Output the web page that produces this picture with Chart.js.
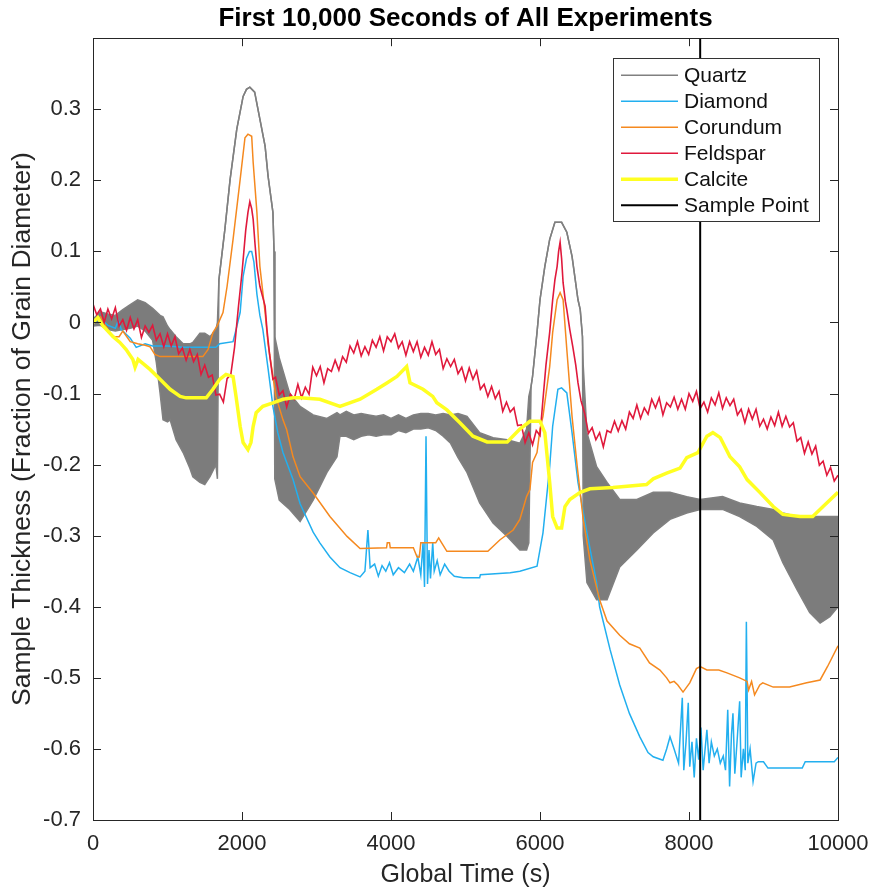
<!DOCTYPE html>
<html><head><meta charset="utf-8">
<script src="https://cdn.jsdelivr.net/npm/chart.js@4.4.1/dist/chart.umd.min.js"></script>
<style>html,body{margin:0;padding:0;background:#fff}canvas{display:block}</style>
</head><body>
<canvas id="c" width="873" height="890"></canvas>
<script>
// ---------------- DATA ----------------
const chartTitle = 'First 10,000 Seconds of All Experiments';
const xAxisLabel = 'Global Time (s)';
const yAxisLabel = 'Sample Thickness (Fraction of Grain Diameter)';
const seriesNames = ['Quartz', 'Diamond', 'Corundum', 'Feldspar', 'Calcite', 'Sample Point'];
const xTicks = [0, 2000, 4000, 6000, 8000, 10000];
const yTicks = [-0.7, -0.6, -0.5, -0.4, -0.3, -0.2, -0.1, 0, 0.1, 0.2, 0.3];

// Quartz oscillates rapidly: [time, upper envelope, lower envelope]
const quartz = [
  [0,0.005,-0.005],[100,0.015,-0.004],[200,0.012,-0.01],[300,0.01,-0.012],[400,0.018,-0.01],
  [500,0.025,-0.008],[600,0.032,-0.005],[700,0.028,-0.012],[800,0.02,-0.025],[850,0.015,-0.056],
  [900,0.01,-0.099],[940,0.008,-0.137],[1000,-0.005,-0.14],[1035,-0.01,-0.137],[1115,-0.02,-0.165],
  [1210,-0.03,-0.183],[1300,-0.03,-0.205],[1340,-0.028,-0.217],[1435,-0.015,-0.225],[1500,-0.015,-0.228],
  [1570,-0.02,-0.217],[1650,-0.01,-0.2],[1670,0.0,-0.22],[1690,0.06,0.06],[1770,0.131,0.131],
  [1840,0.201,0.201],[1930,0.272,0.272],[2015,0.318,0.318],[2060,0.328,0.328],[2105,0.331,0.331],
  [2170,0.324,0.324],[2240,0.286,0.286],[2310,0.248,0.248],[2350,0.206,0.206],[2415,0.155,0.155],
  [2430,0.10,0.10],[2440,-0.02,-0.22],[2500,-0.05,-0.25],[2640,-0.1,-0.263],[2780,-0.118,-0.28],
  [2955,-0.13,-0.25],[3140,-0.135,-0.211],[3275,-0.127,-0.189],[3315,-0.13,-0.16],[3400,-0.125,-0.16],
  [3500,-0.13,-0.165],[3600,-0.128,-0.16],[3700,-0.13,-0.158],[3800,-0.132,-0.16],[3900,-0.13,-0.158],
  [4000,-0.135,-0.158],[4100,-0.13,-0.152],[4200,-0.135,-0.155],[4300,-0.13,-0.15],[4400,-0.128,-0.15],
  [4500,-0.128,-0.148],[4600,-0.13,-0.152],[4700,-0.128,-0.16],[4800,-0.13,-0.17],[4900,-0.128,-0.19],
  [5020,-0.132,-0.211],[5190,-0.155,-0.254],[5370,-0.162,-0.282],[5560,-0.165,-0.301],[5730,-0.17,-0.32],
  [5820,-0.15,-0.32],[5850,-0.104,-0.31],[5880,-0.09,-0.09],[5900,-0.076,-0.076],[5960,-0.014,-0.014],
  [6000,0.032,0.032],[6065,0.079,0.079],[6130,0.117,0.117],[6200,0.141,0.141],[6290,0.141,0.141],
  [6360,0.127,0.127],[6430,0.093,0.093],[6510,0.032,0.032],[6540,0.018,0.018],[6570,-0.02,-0.02],
  [6580,-0.06,-0.3],[6630,-0.155,-0.366],[6760,-0.203,-0.39],[6900,-0.225,-0.39],[7070,-0.249,-0.344],
  [7300,-0.249,-0.32],[7520,-0.239,-0.296],[7745,-0.239,-0.277],[7970,-0.245,-0.268],[8150,-0.249,-0.263],
  [8450,-0.245,-0.263],[8680,-0.254,-0.273],[8910,-0.259,-0.287],[9130,-0.263,-0.306],[9260,-0.268,-0.338],
  [9450,-0.273,-0.376],[9620,-0.273,-0.408],[9760,-0.273,-0.423],[9890,-0.273,-0.414],[10000,-0.273,-0.4]
];

const diamond = [
  [0,0],[100,0.005],[200,-0.004],[300,-0.008],[340,0.003],[380,-0.01],[500,-0.022],[580,-0.035],
  [700,-0.03],[800,-0.033],[1000,-0.033],[1200,-0.035],[1650,-0.035],[1700,-0.03],[1880,-0.027],
  [1920,-0.01],[1975,0.014],[2015,0.065],[2060,0.09],[2100,0.1],[2130,0.1],[2160,0.085],[2200,0.04],
  [2240,0.01],[2280,-0.01],[2350,-0.065],[2415,-0.118],[2480,-0.155],[2550,-0.183],[2685,-0.221],
  [2780,-0.255],[2955,-0.295],[3045,-0.31],[3180,-0.33],[3315,-0.345],[3450,-0.352],[3585,-0.358],
  [3650,-0.35],[3690,-0.292],[3720,-0.345],[3780,-0.34],[3830,-0.357],[3880,-0.342],[3930,-0.35],
  [3980,-0.338],[4030,-0.355],[4100,-0.345],[4180,-0.352],[4250,-0.34],[4300,-0.35],[4360,-0.33],
  [4400,-0.355],[4430,-0.31],[4450,-0.372],[4470,-0.16],[4490,-0.368],[4510,-0.32],[4530,-0.36],
  [4560,-0.31],[4580,-0.35],[4620,-0.335],[4660,-0.355],[4720,-0.34],[4780,-0.35],[4850,-0.357],
  [4970,-0.359],[5190,-0.359],[5200,-0.355],[5600,-0.352],[5730,-0.35],[5960,-0.343],[6040,-0.296],
  [6130,-0.203],[6170,-0.146],[6240,-0.094],[6290,-0.092],[6360,-0.099],[6430,-0.155],[6510,-0.225],
  [6630,-0.296],[6760,-0.366],[6800,-0.4],[6940,-0.46],[7070,-0.51],[7200,-0.55],[7340,-0.583],
  [7450,-0.605],[7520,-0.611],[7650,-0.616],[7700,-0.6],[7745,-0.583],[7800,-0.6],[7860,-0.62],
  [7910,-0.528],[7930,-0.63],[7960,-0.59],[7990,-0.535],[8010,-0.625],[8040,-0.59],[8070,-0.64],
  [8100,-0.585],[8130,-0.615],[8160,-0.57],[8190,-0.63],[8240,-0.573],[8270,-0.62],[8300,-0.59],
  [8340,-0.61],[8380,-0.6],[8420,-0.62],[8460,-0.61],[8490,-0.63],[8520,-0.545],[8545,-0.653],
  [8570,-0.58],[8590,-0.55],[8615,-0.635],[8645,-0.59],[8680,-0.533],[8700,-0.64],[8730,-0.6],
  [8755,-0.63],[8770,-0.421],[8790,-0.62],[8820,-0.6],[8860,-0.646],[8900,-0.62],[8930,-0.618],
  [9000,-0.618],[9060,-0.627],[9520,-0.627],[9560,-0.618],[9950,-0.618],[10000,-0.612]
];

const corundum = [
  [0,0],[100,0.008],[200,-0.01],[270,-0.02],[350,-0.02],[400,-0.012],[500,-0.027],[600,-0.03],
  [700,-0.032],[765,-0.034],[830,-0.045],[900,-0.048],[1475,-0.048],[1545,-0.038],[1610,-0.014],
  [1665,-0.005],[1745,0.014],[1800,0.051],[1880,0.117],[1975,0.201],[2040,0.26],[2080,0.265],
  [2130,0.262],[2150,0.225],[2200,0.155],[2240,0.079],[2310,0.014],[2350,-0.03],[2455,-0.104],
  [2550,-0.137],[2600,-0.151],[2685,-0.189],[2780,-0.217],[2955,-0.24],[3180,-0.273],[3410,-0.301],
  [3585,-0.318],[3940,-0.317],[3950,-0.31],[3980,-0.31],[3990,-0.317],[4300,-0.317],[4350,-0.33],
  [4380,-0.33],[4400,-0.31],[4600,-0.31],[4640,-0.303],[4680,-0.31],[4750,-0.322],[5300,-0.322],
  [5460,-0.306],[5640,-0.292],[5730,-0.277],[5820,-0.245],[5865,-0.235],[5900,-0.197],[5960,-0.183],
  [6000,-0.15],[6040,-0.132],[6130,-0.062],[6170,-0.014],[6230,0.032],[6270,0.042],[6310,0.032],
  [6360,-0.038],[6430,-0.132],[6500,-0.203],[6580,-0.277],[6670,-0.334],[6800,-0.39],[6900,-0.42],
  [7070,-0.44],[7200,-0.452],[7340,-0.458],[7470,-0.479],[7610,-0.489],[7700,-0.5],[7745,-0.507],
  [7800,-0.505],[7850,-0.51],[7920,-0.52],[8010,-0.507],[8100,-0.487],[8150,-0.484],[8240,-0.489],
  [8400,-0.489],[8510,-0.493],[8680,-0.5],[8780,-0.505],[8800,-0.517],[8840,-0.505],[8880,-0.524],
  [8950,-0.51],[8990,-0.507],[9130,-0.513],[9350,-0.513],[9580,-0.507],[9760,-0.503],[9860,-0.484],
  [10000,-0.455]
];

const feldspar = [
  [0,0.026],[50,0.011],[100,0.019],[150,0.0],[200,0.019],[250,0.005],[300,0.021],[350,-0.005],
  [400,0.004],[450,-0.011],[500,0.007],[550,-0.009],[600,0.004],[650,-0.021],[700,-0.005],[750,-0.014],
  [800,-0.004],[850,-0.025],[900,-0.016],[950,-0.034],[1000,-0.016],[1050,-0.033],[1100,-0.02],
  [1150,-0.044],[1200,-0.036],[1250,-0.053],[1300,-0.038],[1350,-0.055],[1400,-0.045],[1450,-0.073],
  [1500,-0.06],[1550,-0.077],[1600,-0.074],[1650,-0.102],[1700,-0.101],[1750,-0.112],[1800,-0.079],
  [1850,-0.073],[1900,-0.035],[1950,0.02],[2000,0.07],[2050,0.13],[2080,0.155],[2105,0.17],[2130,0.16],
  [2150,0.145],[2175,0.11],[2200,0.079],[2240,0.051],[2280,0.035],[2310,0.023],[2335,-0.01],
  [2370,-0.045],[2415,-0.08],[2450,-0.077],[2500,-0.102],[2550,-0.096],[2600,-0.119],[2650,-0.101],
  [2700,-0.108],[2750,-0.087],[2800,-0.106],[2850,-0.091],[2900,-0.101],[2950,-0.063],[3000,-0.075],
  [3050,-0.062],[3100,-0.085],[3150,-0.065],[3200,-0.069],[3250,-0.053],[3300,-0.067],[3350,-0.048],
  [3400,-0.056],[3450,-0.033],[3500,-0.043],[3550,-0.027],[3600,-0.047],[3650,-0.034],[3700,-0.045],
  [3750,-0.025],[3800,-0.035],[3850,-0.02],[3900,-0.04],[3950,-0.02],[4000,-0.027],[4050,-0.016],
  [4100,-0.036],[4150,-0.027],[4200,-0.046],[4250,-0.027],[4300,-0.041],[4350,-0.027],[4400,-0.049],
  [4450,-0.035],[4500,-0.046],[4550,-0.027],[4600,-0.045],[4650,-0.038],[4700,-0.065],[4750,-0.051],
  [4800,-0.062],[4850,-0.052],[4900,-0.072],[4950,-0.063],[5000,-0.082],[5050,-0.064],[5100,-0.08],
  [5150,-0.068],[5200,-0.094],[5250,-0.087],[5300,-0.104],[5350,-0.09],[5400,-0.107],[5450,-0.097],
  [5500,-0.125],[5550,-0.112],[5600,-0.126],[5650,-0.12],[5700,-0.145],[5750,-0.144],[5800,-0.169],
  [5850,-0.155],[5900,-0.172],[5950,-0.152],[6000,-0.159],[6040,-0.108],[6080,-0.06],[6130,-0.014],
  [6170,0.032],[6200,0.06],[6230,0.079],[6250,0.1],[6270,0.113],[6290,0.09],[6310,0.056],[6340,0.03],
  [6360,0.018],[6400,-0.01],[6440,-0.034],[6480,-0.06],[6510,-0.085],[6550,-0.11],[6600,-0.128],
  [6650,-0.156],[6700,-0.148],[6750,-0.165],[6800,-0.155],[6850,-0.175],[6900,-0.152],[6950,-0.155],
  [7000,-0.139],[7050,-0.153],[7100,-0.138],[7150,-0.15],[7200,-0.126],[7250,-0.135],[7300,-0.116],
  [7350,-0.135],[7400,-0.12],[7450,-0.129],[7500,-0.108],[7550,-0.12],[7600,-0.106],[7650,-0.13],
  [7700,-0.113],[7750,-0.119],[7800,-0.105],[7850,-0.122],[7900,-0.108],[7950,-0.122],[8000,-0.1],
  [8050,-0.111],[8100,-0.097],[8150,-0.121],[8200,-0.112],[8250,-0.126],[8300,-0.106],[8350,-0.116],
  [8400,-0.099],[8450,-0.121],[8500,-0.106],[8550,-0.117],[8600,-0.108],[8650,-0.13],[8700,-0.122],
  [8750,-0.141],[8800,-0.122],[8850,-0.136],[8900,-0.122],[8950,-0.146],[9000,-0.136],[9050,-0.15],
  [9100,-0.133],[9150,-0.145],[9200,-0.126],[9250,-0.146],[9300,-0.132],[9350,-0.147],[9400,-0.141],
  [9450,-0.167],[9500,-0.162],[9550,-0.184],[9600,-0.168],[9650,-0.185],[9700,-0.174],[9750,-0.201],
  [9800,-0.195],[9850,-0.215],[9900,-0.204],[9950,-0.223],[10000,-0.215]
];

const calcite = [
  [0,0],[65,0.007],[135,-0.005],[270,-0.02],[360,-0.028],[445,-0.038],[535,-0.052],[565,-0.063],
  [605,-0.052],[765,-0.066],[900,-0.08],[1035,-0.094],[1170,-0.104],[1250,-0.106],[1520,-0.106],
  [1610,-0.094],[1700,-0.08],[1785,-0.073],[1880,-0.076],[1920,-0.104],[1975,-0.146],[2015,-0.169],
  [2080,-0.179],[2120,-0.169],[2150,-0.146],[2190,-0.127],[2280,-0.118],[2415,-0.113],[2550,-0.108],
  [2685,-0.106],[2780,-0.106],[3045,-0.108],[3315,-0.118],[3585,-0.108],[3810,-0.094],[3945,-0.085],
  [4080,-0.076],[4210,-0.062],[4255,-0.085],[4430,-0.094],[4560,-0.104],[4615,-0.113],[4750,-0.123],
  [4925,-0.141],[5100,-0.16],[5290,-0.168],[5560,-0.168],[5730,-0.15],[5865,-0.139],[6000,-0.139],
  [6065,-0.155],[6130,-0.225],[6170,-0.273],[6230,-0.289],[6290,-0.289],[6335,-0.259],[6400,-0.249],
  [6540,-0.239],[6670,-0.234],[6980,-0.232],[7430,-0.228],[7520,-0.22],[7700,-0.212],[7880,-0.205],
  [7970,-0.19],[8120,-0.183],[8240,-0.16],[8320,-0.155],[8420,-0.162],[8550,-0.189],[8680,-0.203],
  [8780,-0.221],[8950,-0.239],[9130,-0.259],[9260,-0.27],[9490,-0.273],[9660,-0.273],[9800,-0.259],
  [10000,-0.239]
];

const samplePointTime = 8150;

// ---------------- STYLES ----------------
const FONT = '"Liberation Sans", Arial, Helvetica, sans-serif';
const colQuartz = '#808080', colDiamond = '#22AFEF', colCorundum = '#F5891F',
      colFeldspar = '#E0193C', colCalcite = '#FFFF22', colSample = '#000000';
const seriesStyles = [
  {color: colQuartz, width: 1.5},
  {color: colDiamond, width: 1.5},
  {color: colCorundum, width: 1.5},
  {color: colFeldspar, width: 1.6},
  {color: colCalcite, width: 3.5},
  {color: colSample, width: 2}
];

const pts = arr => arr.map(p => ({x: p[0], y: p[1]}));
const lineDs = (label, data, st, order, extra) => Object.assign({
  label, data, borderColor: st.color, backgroundColor: st.color, borderWidth: st.width,
  pointRadius: 0, tension: 0, fill: false, order
}, extra || {});

const datasets = [
  lineDs('Quartz', quartz.map(p => ({x: p[0], y: p[1]})), seriesStyles[0], 6),
  lineDs('Quartz lower', quartz.map(p => ({x: p[0], y: p[2]})), seriesStyles[0], 6, {fill: 0, backgroundColor: '#7c7c7c'}),
  lineDs('Diamond', pts(diamond), seriesStyles[1], 5),
  lineDs('Corundum', pts(corundum), seriesStyles[2], 4),
  lineDs('Feldspar', pts(feldspar), seriesStyles[3], 3),
  lineDs('Calcite', pts(calcite), seriesStyles[4], 2),
  lineDs('Sample Point', [{x: samplePointTime, y: -0.7}, {x: samplePointTime, y: 0.4}], seriesStyles[5], 1)
];

const frameAndTicks = {
  id: 'frameAndTicks',
  afterDatasetsDraw(chart) {
    const {ctx, chartArea: a, scales: {x, y}} = chart;
    ctx.save();
    ctx.strokeStyle = '#262626';
    ctx.lineWidth = 1;
    const L = 8;
    ctx.beginPath();
    xTicks.forEach(v => {
      const px = Math.round(x.getPixelForValue(v)) + 0.5;
      ctx.moveTo(px, a.bottom); ctx.lineTo(px, a.bottom - L);
      ctx.moveTo(px, a.top); ctx.lineTo(px, a.top + L);
    });
    yTicks.forEach(v => {
      const py = Math.round(y.getPixelForValue(v)) + 0.5;
      ctx.moveTo(a.left, py); ctx.lineTo(a.left + L, py);
      ctx.moveTo(a.right, py); ctx.lineTo(a.right - L, py);
    });
    ctx.stroke();
    ctx.strokeRect(Math.round(a.left) + 0.5, Math.round(a.top) + 0.5,
                   Math.round(a.right - a.left), Math.round(a.bottom - a.top));
    ctx.restore();
  },
  afterDraw(chart) {
    const {ctx, chartArea: a} = chart;
    const w = 206, h = 163;
    const bx = a.right - 19 - w, by = a.top + 20;
    ctx.save();
    ctx.fillStyle = '#ffffff';
    ctx.fillRect(bx, by, w, h);
    ctx.strokeStyle = '#333333';
    ctx.lineWidth = 1;
    ctx.strokeRect(Math.round(bx) + 0.5, Math.round(by) + 0.5, w, h);
    ctx.font = '21px ' + FONT;
    ctx.textBaseline = 'middle';
    ctx.fillStyle = '#111111';
    seriesNames.forEach((name, i) => {
      const cy = by + 17 + i * 26;
      const st = seriesStyles[i];
      ctx.beginPath();
      ctx.strokeStyle = st.color;
      ctx.lineWidth = st.width;
      ctx.moveTo(bx + 8, cy); ctx.lineTo(bx + 65, cy);
      ctx.stroke();
      ctx.fillText(name, bx + 71, cy + 1);
    });
    ctx.restore();
  }
};

new Chart(document.getElementById('c'), {
  type: 'line',
  data: {datasets},
  options: {
    responsive: false,
    animation: false,
    devicePixelRatio: 1,
    layout: {padding: {left: 0, right: 35, top: 0, bottom: 0}},
    plugins: {
      legend: {display: false},
      tooltip: {enabled: false},
      title: {
        display: true, text: chartTitle, fullSize: false, color: '#000',
        font: {family: FONT, size: 26, weight: 'bold', lineHeight: 1.2},
        padding: {top: 3, bottom: 4}
      }
    },
    scales: {
      x: {
        type: 'linear', min: 0, max: 10000,
        afterBuildTicks: s => { s.ticks = xTicks.map(v => ({value: v})); },
        afterFit: s => { s.height = 70; s.paddingLeft = 0; s.paddingRight = 0; },
        grid: {display: false, drawTicks: false}, border: {display: false},
        ticks: {font: {family: FONT, size: 22}, color: '#262626', padding: 11, maxRotation: 0,
                callback: v => String(v)},
        title: {display: true, text: xAxisLabel, color: '#262626',
                font: {family: FONT, size: 25}, padding: {top: 0, bottom: 0}}
      },
      y: {
        type: 'linear', min: -0.7, max: 0.4,
        afterBuildTicks: s => { s.ticks = yTicks.map(v => ({value: v})); },
        afterFit: s => { s.width = 93; s.paddingTop = 0; s.paddingBottom = 0; },
        grid: {display: false, drawTicks: false}, border: {display: false},
        ticks: {font: {family: FONT, size: 22}, color: '#262626', padding: 12,
                callback: v => (Math.abs(v) < 1e-9 ? '0' : (Math.round(v * 10) / 10).toFixed(1))},
        title: {display: true, text: yAxisLabel, color: '#262626',
                font: {family: FONT, size: 26.5}, padding: {top: 7, bottom: 0}}
      }
    }
  },
  plugins: [frameAndTicks]
});
</script>
</body></html>
